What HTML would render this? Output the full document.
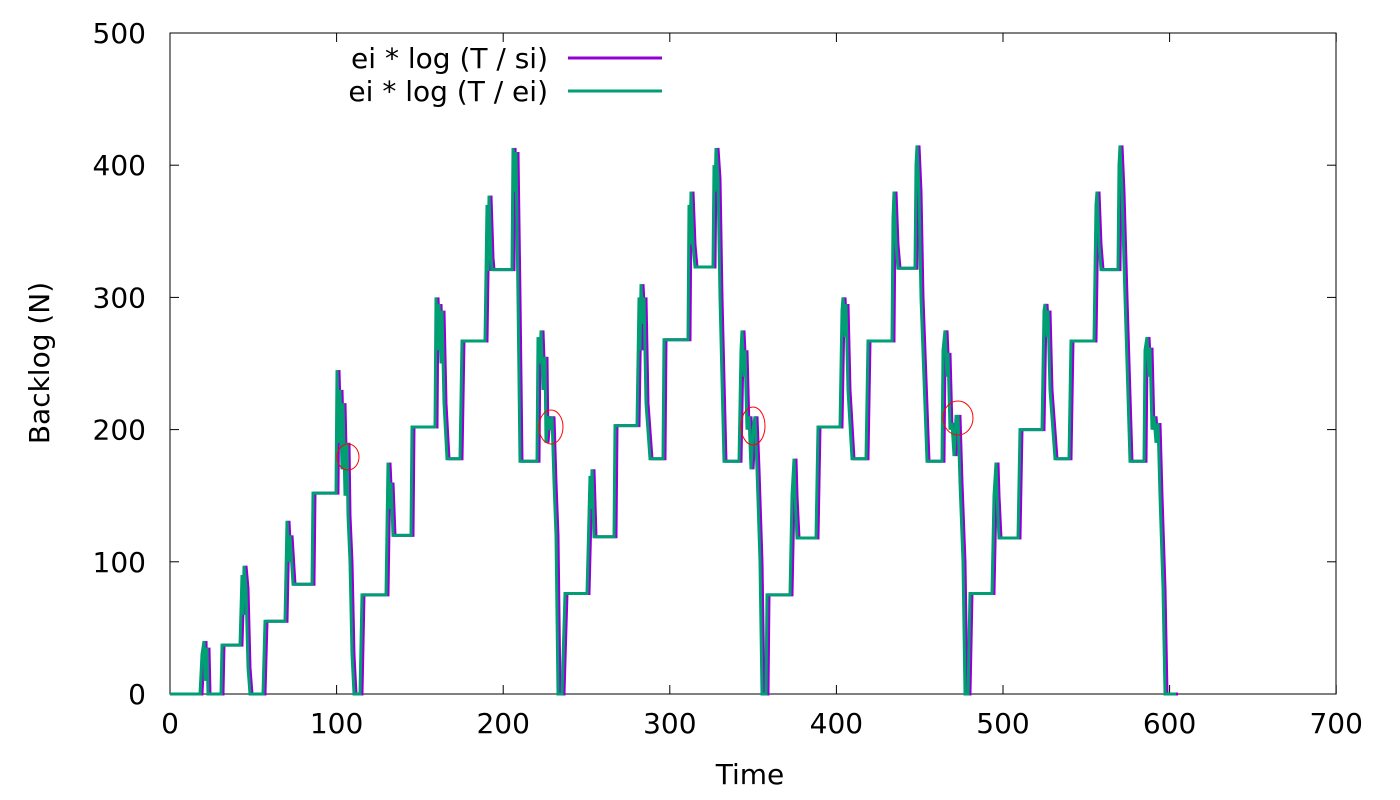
<!DOCTYPE html>
<html><head><meta charset="utf-8"><style>
html,body{margin:0;padding:0;background:#fff;width:1400px;height:800px;overflow:hidden}
svg text{font-family:"DejaVu Sans","Liberation Sans",sans-serif;font-size:28px;fill:#000}
</style></head><body>
<svg id="s" width="1400" height="800" xmlns="http://www.w3.org/2000/svg">
<rect x="170" y="33" width="1166" height="661" fill="none" stroke="#000" stroke-width="1"/>
<g id="ticks" stroke="#000" stroke-width="1"></g>
<g id="labels"></g>
<text x="40" y="372" text-anchor="middle" transform="rotate(-90 40 363)">Backlog (N)</text>
<text x="750" y="784" text-anchor="middle">Time</text>
<polyline id="p" fill="none" stroke="#9400d3" stroke-width="3" stroke-linejoin="miter"/>
<polyline id="g" fill="none" stroke="#009e73" stroke-width="3" stroke-linejoin="miter"/>
<g fill="none" stroke="#ff0000" stroke-width="1">
<ellipse cx="348" cy="457" rx="11" ry="13"/>
<ellipse cx="551" cy="427" rx="12" ry="17"/>
<ellipse cx="753" cy="426" rx="12" ry="19"/>
<ellipse cx="958" cy="418" rx="15" ry="17"/>
</g>
<text x="548" y="68" text-anchor="end">ei * log (T / si)</text>
<line x1="568" y1="58" x2="662" y2="58" stroke="#9400d3" stroke-width="3"/>
<text x="548" y="101" text-anchor="end">ei * log (T / ei)</text>
<line x1="568" y1="91" x2="662" y2="91" stroke="#009e73" stroke-width="3"/>
</svg>
<script>
var NS="http://www.w3.org/2000/svg";
function el(t,a,p,txt){var e=document.createElementNS(NS,t);for(var k in a)e.setAttribute(k,a[k]);if(txt!=null)e.textContent=txt;p.appendChild(e);return e;}
var tk=document.getElementById('ticks'),lb=document.getElementById('labels');
for(var v=0;v<=500;v+=100){var y=694-v*1.322;
el('line',{x1:170,y1:y,x2:179,y2:y},tk);el('line',{x1:1336,y1:y,x2:1327,y2:y},tk);
el('text',{x:146,y:y+10,'text-anchor':'end'},lb,v);}
for(var v=0;v<=700;v+=100){var x=170+v*1.666;
el('line',{x1:x,y1:694,x2:x,y2:685},tk);el('line',{x1:x,y1:33,x2:x,y2:42},tk);
el('text',{x:x,y:733,'text-anchor':'middle'},lb,v);}
var d=[[170,0],[200,0],[202,30],[204,40],[205,10],[207,35],[208,0],[221,0],[222,37],[240,37],[242,90],[243,60],[244,97],[246,80],[248,20],[250,0],[263,0],[265,55],[285,55],[287,131],[289,100],[290,120],[293,83],[312,83],[313,152],[336,152],[337,245],[339,190],[340,230],[342,170],[343,220],[345,150],[347,190],[348,135],[350,100],[352,30],[354,0],[360,0],[362,75],[386,75],[388,175],[390,140],[391,160],[393,120],[411,120],[412,202],[435,202],[436,300],[438,260],[439,295],[441,250],[442,290],[444,220],[447,178],[460,178],[462,267],[485,267],[487,370],[488,320],[489,377],[491,330],[492,321],[512,321],[513,413],[515,380],[516,410],[518,300],[520,176],[537,176],[538,270],[540,250],[541,275],[543,230],[545,255],[546,190],[548,210],[550,200],[552,210],[554,160],[556,120],[558,0],[562,0],[565,76],[587,76],[590,165],[591,140],[592,170],[594,119],[614,119],[615,203],[637,203],[639,300],[640,260],[641,310],[643,280],[644,300],[646,220],[650,178],[663,178],[664,268],[688,268],[689,370],[690,340],[691,380],[693,340],[695,323],[713,323],[714,400],[715,380],[716,413],[718,390],[720,300],[724,176],[739,176],[741,260],[742,275],[744,240],[745,260],[747,200],[749,210],[751,170],[753,200],[755,210],[757,170],[760,100],[762,0],[766,0],[767,75],[790,75],[792,150],[794,178],[795,150],[797,118],[816,118],[818,202],[840,202],[842,290],[843,300],[845,270],[846,295],[848,230],[852,178],[866,178],[868,267],[892,267],[893,360],[894,380],[896,340],[898,322],[915,322],[916,400],[917,415],[919,380],[921,300],[927,176],[942,176],[943,260],[945,275],[947,240],[948,258],[950,200],[952,205],[954,180],[956,210],[958,210],[960,160],[963,100],[965,0],[968,0],[970,76],[992,76],[994,150],[996,175],[997,150],[999,118],[1018,118],[1020,200],[1042,200],[1044,290],[1045,295],[1047,270],[1048,290],[1050,230],[1055,178],[1069,178],[1071,267],[1094,267],[1096,370],[1097,380],[1099,340],[1101,321],[1118,321],[1119,400],[1120,415],[1122,380],[1125,300],[1130,176],[1144,176],[1145,260],[1147,270],[1149,240],[1150,262],[1152,200],[1154,210],[1156,190],[1158,205],[1160,150],[1163,80],[1165,0],[1176,0]];
function pts(off){return d.map(function(p){return (p[0]+off)+','+(694-p[1]*1.322).toFixed(1)}).join(' ');}
document.getElementById('p').setAttribute('points',pts(2));
document.getElementById('g').setAttribute('points',pts(0));
</script>
</body></html>
